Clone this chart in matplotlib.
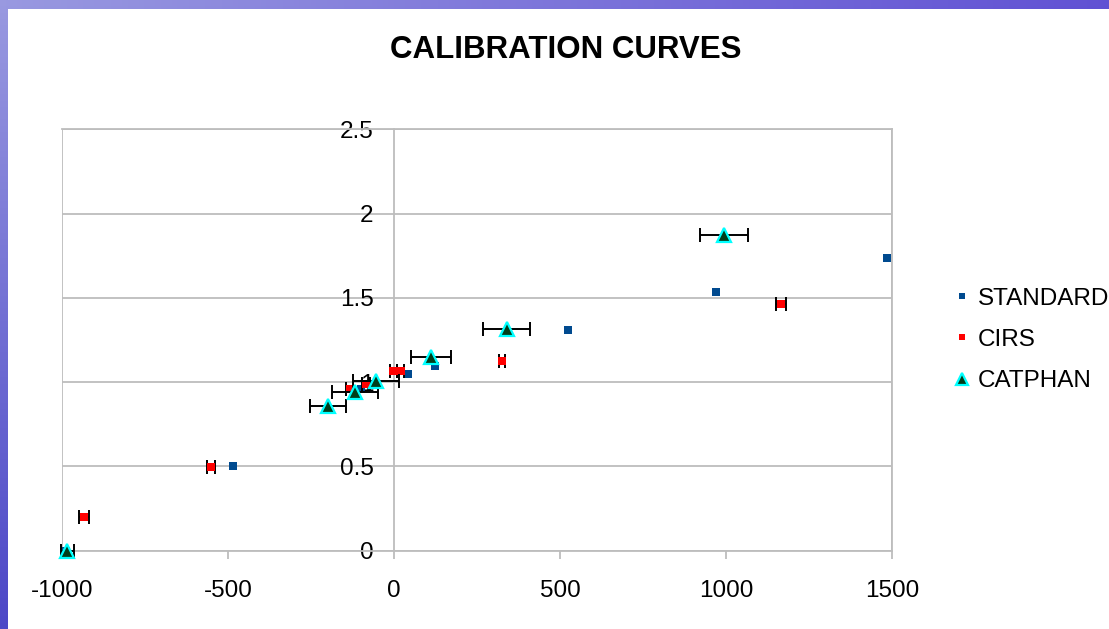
import numpy as np
import matplotlib
matplotlib.use("Agg")
import matplotlib.pyplot as plt
from matplotlib.patches import Rectangle

# ---- data ----
standard_x = [-990, -485, -100, 42, 123, 522, 969, 1484]
standard_y = [0.0, 0.505, 0.958, 1.048, 1.093, 1.307, 1.533, 1.735]

cirs_x = [-935, -553, -134, -85, -3, 19, 323, 1165]
cirs_y = [0.198, 0.496, 0.959, 0.989, 1.064, 1.064, 1.127, 1.464]
cirs_xerr = [16, 12, 10, 12, 10, 10, 9, 16]

catphan_x = [-985, -199, -118, -55, 110, 338, 993]
catphan_y = [0.0, 0.856, 0.940, 1.008, 1.147, 1.317, 1.870]
catphan_xerr = [20, 54, 69, 69, 60, 72, 72]

x_ticks = [-1000, -500, 0, 500, 1000, 1500]
y_ticks = [0, 0.5, 1, 1.5, 2, 2.5]
y_tick_labels = ["0", "0.5", "1", "1.5", "2", "2.5"]
series_names = ["STANDARD", "CIRS", "CATPHAN"]
title = "CALIBRATION CURVES"

plt.rcParams['font.family'] = ['Liberation Sans', 'DejaVu Sans']

W, H = 1109, 629
fig = plt.figure(figsize=(W / 100, H / 100), dpi=100)

# ---- background: blue textured border on left and top ----
bg = fig.add_axes([0, 0, 1, 1])
bg.set_xlim(0, W)
bg.set_ylim(H, 0)
bg.axis('off')
gx = np.linspace(0, 1, 200)
gy = np.linspace(0, 1, 100)
GX, GY = np.meshgrid(gx, gy)
r = 0.60 - 0.22 * GX - 0.30 * GY
g = 0.60 - 0.28 * GX - 0.32 * GY
b = 0.88 - 0.05 * GX - 0.10 * GY
grad = np.dstack([r, g, b]).clip(0, 1)
bg.imshow(grad, extent=[0, W, H, 0], aspect='auto', zorder=0)
bg.add_patch(Rectangle((8, 9), W, H, facecolor='white', edgecolor='none', zorder=1))

# ---- main axes ----
ax = fig.add_axes([62.3 / W, 1 - 550.7 / H, 830 / W, 421.4 / H])
ax.set_facecolor('none')
ax.set_xlim(-1000, 1500)
ax.set_ylim(0, 2.5)

grid_c = '#BDBDBD'
lw = 1.3
ax.set_xticks(x_ticks)
ax.set_xticklabels([str(v) for v in x_ticks])
ax.set_yticks(y_ticks)
ax.set_yticklabels(y_tick_labels)
ax.yaxis.grid(True, color=grid_c, linewidth=lw)
ax.set_axisbelow(True)

for s in ['top', 'right', 'bottom']:
    ax.spines[s].set_color(grid_c)
    ax.spines[s].set_linewidth(lw)
ax.spines['left'].set_position(('data', 0))
ax.spines['left'].set_color(grid_c)
ax.spines['left'].set_linewidth(lw)
ax.add_patch(Rectangle((0, 0), 1, 1, transform=ax.transAxes, fill=False,
                       edgecolor=grid_c, linewidth=lw, zorder=0.5))

ax.tick_params(axis='x', direction='out', length=5.5, width=lw, color=grid_c,
               labelsize=17.5, pad=15.5)
ax.tick_params(axis='y', length=0, labelsize=17.5, pad=15)

# ---- series ----
blue = '#004A8F'
red = '#FF0000'

ax.plot(standard_x, standard_y, linestyle='none', marker='s', markersize=5.8,
        color=blue, markeredgewidth=0, label=series_names[0], zorder=3,
        clip_on=False)

eb1 = ax.errorbar(cirs_x, cirs_y, xerr=cirs_xerr, fmt='none', ecolor='black',
                  elinewidth=1.4, capsize=4.8, capthick=1.4, zorder=4)
ax.plot(cirs_x, cirs_y, linestyle='none', marker='s', markersize=5.8,
        color=red, markeredgewidth=0, label=series_names[1], zorder=4,
        clip_on=False)

eb2 = ax.errorbar(catphan_x, catphan_y, xerr=catphan_xerr, fmt='none', ecolor='black',
                  elinewidth=1.4, capsize=4.8, capthick=1.4, zorder=5)
for eb in (eb1, eb2):
    for art in eb.lines[1]:
        art.set_clip_on(False)
    for art in eb.lines[2]:
        art.set_clip_on(False)
ax.plot(catphan_x, catphan_y, linestyle='none', marker='^', markersize=9.5,
        markerfacecolor='#003D1A', markeredgecolor='#00FFFF', markeredgewidth=1.6,
        label=series_names[2], zorder=6, clip_on=False)

leg = ax.legend(loc='center left', frameon=False, fontsize=17.5,
                handlelength=0.6, handletextpad=0.35, labelspacing=0.8,
                borderaxespad=0, borderpad=0, numpoints=1, markerscale=0.85)
leg.set_bbox_to_anchor((955 / W, 1 - 340 / H), transform=fig.transFigure)

fig.text(566 / W, 1 - 50 / H, title, ha='center', va='center',
         fontsize=22.5, fontweight='bold')

fig.savefig('out.png', dpi=100)
